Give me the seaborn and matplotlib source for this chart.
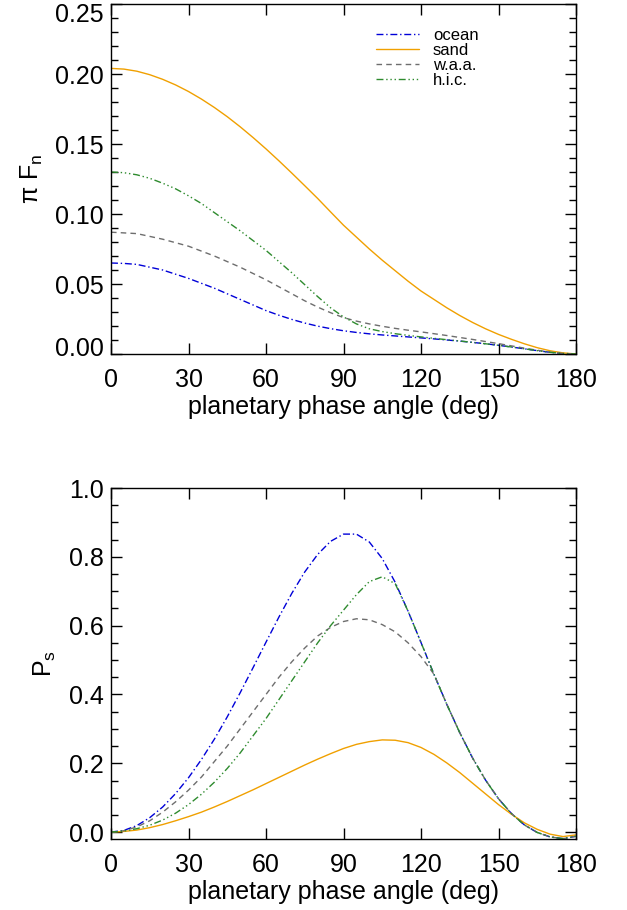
import numpy as np
import pandas as pd
import seaborn as sns
import matplotlib
matplotlib.use("Agg")
import matplotlib.pyplot as plt
import matplotlib.transforms as mtransforms
from matplotlib.ticker import MultipleLocator

# ---------------- data ----------------
angle = list(range(0, 181, 5))

# top panel: pi * F_n
flux_ocean = [0.065, 0.0647, 0.064, 0.062, 0.060, 0.057, 0.054, 0.0505, 0.047, 0.043,
              0.039, 0.035, 0.031, 0.0277, 0.0247, 0.0221, 0.0199, 0.0181, 0.0166, 0.0154,
              0.0144, 0.0136, 0.0129, 0.0122, 0.0115, 0.0108, 0.0100, 0.0092, 0.0083, 0.0073,
              0.0062, 0.0050, 0.0037, 0.0024, 0.0012, 0.0004, 0.0]
flux_sand = [0.204, 0.2035, 0.202, 0.1995, 0.1962, 0.1922, 0.1875, 0.1821, 0.1761, 0.1695,
             0.1623, 0.1546, 0.1465, 0.1380, 0.1292, 0.1202, 0.1111, 0.1015, 0.092, 0.0835,
             0.075, 0.067, 0.0595, 0.052, 0.045, 0.039, 0.033, 0.0275, 0.0225, 0.018,
             0.014, 0.0105, 0.0073, 0.0045, 0.0023, 0.0008, 0.0]
flux_waa = [0.087, 0.0865, 0.086, 0.084, 0.082, 0.0795, 0.077, 0.0735, 0.070, 0.066,
            0.062, 0.0575, 0.053, 0.048, 0.043, 0.038, 0.0335, 0.0295, 0.026, 0.0235,
            0.0215, 0.0198, 0.0183, 0.017, 0.0158, 0.0145, 0.0132, 0.0118, 0.0104, 0.0089,
            0.0074, 0.0058, 0.0042, 0.0027, 0.0013, 0.0004, 0.0]
flux_hic = [0.130, 0.1295, 0.128, 0.1255, 0.122, 0.118, 0.113, 0.1075, 0.101, 0.0945,
            0.088, 0.081, 0.074, 0.066, 0.058, 0.0495, 0.041, 0.033, 0.0265, 0.0215,
            0.018, 0.016, 0.0145, 0.0133, 0.0122, 0.0112, 0.0102, 0.0093, 0.0083, 0.0073,
            0.0062, 0.0050, 0.0037, 0.0024, 0.0012, 0.0004, 0.0]

# bottom panel: P_s
pol_ocean = [0.0, 0.005, 0.019, 0.042, 0.073, 0.112, 0.158, 0.211, 0.27, 0.335,
             0.405, 0.478, 0.552, 0.625, 0.694, 0.756, 0.807, 0.845, 0.866, 0.866,
             0.843, 0.795, 0.726, 0.642, 0.551, 0.459, 0.371, 0.289, 0.215, 0.151,
             0.097, 0.054, 0.021, -0.001, -0.014, -0.019, -0.012]
pol_sand = [0.0, 0.002, 0.006, 0.013, 0.022, 0.033, 0.045, 0.058, 0.073, 0.089,
            0.106, 0.123, 0.141, 0.159, 0.177, 0.195, 0.212, 0.228, 0.243, 0.255,
            0.263, 0.268, 0.267, 0.26, 0.246, 0.226, 0.201, 0.173, 0.142, 0.111,
            0.080, 0.052, 0.027, 0.008, -0.006, -0.013, -0.008]
pol_waa = [0.0, 0.004, 0.015, 0.033, 0.058, 0.088, 0.122, 0.16, 0.205, 0.25,
           0.30, 0.35, 0.40, 0.45, 0.495, 0.535, 0.57, 0.595, 0.612, 0.62,
           0.617, 0.603, 0.582, 0.55, 0.51, 0.459, 0.371, 0.289, 0.215, 0.151,
           0.097, 0.054, 0.021, -0.001, -0.014, -0.019, -0.012]
pol_hic = [0.0, 0.003, 0.01, 0.02, 0.035, 0.055, 0.08, 0.11, 0.145, 0.185,
           0.23, 0.28, 0.33, 0.385, 0.44, 0.495, 0.55, 0.60, 0.645, 0.69,
           0.728, 0.742, 0.722, 0.642, 0.551, 0.459, 0.371, 0.289, 0.215, 0.151,
           0.097, 0.054, 0.021, -0.001, -0.014, -0.019, -0.012]

labels = ["ocean", "sand", "w.a.a.", "h.i.c."]
xticks = [0, 30, 60, 90, 120, 150, 180]

# ---------------- style ----------------
sns.set_theme(style="ticks")
plt.rcParams["font.family"] = ["Liberation Sans", "DejaVu Sans"]
plt.rcParams["mathtext.fontset"] = "custom"
plt.rcParams["mathtext.rm"] = "Liberation Sans"
plt.rcParams["axes.linewidth"] = 1.0
plt.rcParams["text.color"] = "black"
plt.rcParams["axes.labelcolor"] = "black"
plt.rcParams["xtick.color"] = "black"
plt.rcParams["ytick.color"] = "black"
plt.rcParams["xtick.labelcolor"] = "black"
plt.rcParams["ytick.labelcolor"] = "black"

colors = {"ocean": "#0000D8", "sand": "#F0A000", "w.a.a.": "#6E6E6E", "h.i.c.": "#2E8B2E"}
styles = {"ocean": (0, (5, 2, 1, 2)),
          "sand": "-",
          "w.a.a.": (0, (4, 3)),
          "h.i.c.": (0, (5, 2, 1, 2, 1, 2, 1, 2))}

fig = plt.figure(figsize=(6.27, 9.10), dpi=100)
ax1 = fig.add_axes([111 / 627, 1 - 354 / 910, 465 / 627, 350 / 910])
ax2 = fig.add_axes([111 / 627, 1 - 839 / 910, 465 / 627, 351 / 910])

top_series = dict(zip(labels, [flux_ocean, flux_sand, flux_waa, flux_hic]))
bot_series = dict(zip(labels, [pol_ocean, pol_sand, pol_waa, pol_hic]))

for name in labels:
    sns.lineplot(x=angle, y=top_series[name], ax=ax1, color=colors[name],
                 linestyle=styles[name], linewidth=1.0, label=name, estimator=None)
    sns.lineplot(x=angle, y=bot_series[name], ax=ax2, color=colors[name],
                 linestyle=styles[name], linewidth=1.0, estimator=None, legend=False)

ax1.set_xlim(0, 180)
ax1.set_ylim(0, 0.25)
ax2.set_xlim(0, 180)
ax2.set_ylim(-0.02, 1.0)

fs = 18
for ax in (ax1, ax2):
    ax.set_xticks(xticks)
    ax.xaxis.set_minor_locator(plt.NullLocator())
    ax.tick_params(axis="both", which="both", direction="in", top=True, right=True,
                   labelsize=fs, color="black", labelcolor="black", width=1.0)
    ax.tick_params(axis="both", which="major", length=8)
    ax.tick_params(axis="both", which="minor", length=5)
    ax.tick_params(axis="x", pad=10)
    ax.tick_params(axis="y", pad=5)
    ax.set_xlabel("planetary phase angle (deg)", fontsize=fs, labelpad=2, color="black")
    for sp in ax.spines.values():
        sp.set_color("black")
        sp.set_linewidth(1.0)

ax1.set_yticks([0.0, 0.05, 0.10, 0.15, 0.20, 0.25])
ax1.set_yticklabels(["0.00", "0.05", "0.10", "0.15", "0.20", "0.25"])
ax1.yaxis.set_minor_locator(MultipleLocator(0.01))
ax2.set_yticks([0.0, 0.2, 0.4, 0.6, 0.8, 1.0])
ax2.set_yticklabels(["0.0", "0.2", "0.4", "0.6", "0.8", "1.0"])
ax2.yaxis.set_minor_locator(MultipleLocator(0.05))

ax1.set_ylabel("π F$_\\mathregular{n}$", fontsize=fs, labelpad=7, color="black")
ax2.set_ylabel("P$_\\mathregular{s}$", fontsize=fs, labelpad=8, color="black")

# IDL keeps end labels inside the frame on the top panel
fig.canvas.draw()
ylabs = ax1.get_yticklabels()
ylabs[0].set_transform(ylabs[0].get_transform() + mtransforms.ScaledTranslation(0, 8 / 100, fig.dpi_scale_trans))
ylabs[-1].set_transform(ylabs[-1].get_transform() + mtransforms.ScaledTranslation(0, -8 / 100, fig.dpi_scale_trans))

leg = ax1.legend(loc="upper left", bbox_to_anchor=(0.545, 0.965), frameon=False,
                 fontsize=12, labelspacing=0.0, handlelength=2.6, handletextpad=0.8,
                 borderpad=0.2)
for t in leg.get_texts():
    t.set_color("black")

fig.savefig("out.png", dpi=100)
